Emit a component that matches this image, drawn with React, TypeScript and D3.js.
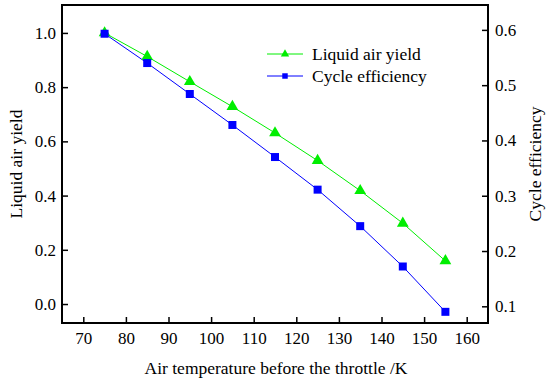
import React, { useEffect, useRef } from 'react';
import * as d3 from 'd3';

const temperatures = [75, 85, 95, 105, 115, 125, 135, 145, 155];
const liquidAirYield = [1.0, 0.913, 0.82, 0.728, 0.631, 0.529, 0.418, 0.298, 0.159];
const cycleEfficiency = [0.593, 0.54, 0.484, 0.428, 0.37, 0.311, 0.245, 0.172, 0.09];
const xTicks = [70, 80, 90, 100, 110, 120, 130, 140, 150, 160];
const leftTicks = [0, 0.2, 0.4, 0.6, 0.8, 1.0];
const rightTicks = [0.1, 0.2, 0.3, 0.4, 0.5, 0.6];

const GREEN = '#00ee00';
const BLUE = '#0000ff';
const FONT = '"Liberation Serif", "Times New Roman", serif';

const App: React.FC = () => {
  const svgRef = useRef<SVGSVGElement>(null);
  const width = 550;
  const height = 383;

  useEffect(() => {
    if (!svgRef.current) return;
    const svg = d3.select(svgRef.current);
    svg.selectAll('*').remove();

    const margin = { top: 5, right: 62, bottom: 60, left: 62 };
    const innerWidth = width - margin.left - margin.right;
    const innerHeight = height - margin.top - margin.bottom;

    const g = svg
      .append('g')
      .attr('transform', `translate(${margin.left},${margin.top})`);

    const x = d3.scaleLinear().domain([65, 165]).range([0, innerWidth]);
    const yLeft = d3.scaleLinear().domain([-0.07, 1.103]).range([innerHeight, 0]);
    const yRight = d3.scaleLinear().domain([0.0698, 0.645]).range([innerHeight, 0]);

    const styleAxis = (sel: d3.Selection<SVGGElement, unknown, null, undefined>) => {
      sel.select('.domain').remove();
      sel.selectAll('line').attr('stroke', '#000').attr('stroke-width', 1.5);
      sel
        .selectAll('text')
        .attr('font-family', FONT)
        .attr('font-size', '17px')
        .attr('fill', '#000');
    };

    g.append('g')
      .attr('transform', `translate(0,${innerHeight})`)
      .call(d3.axisBottom(x).tickValues(xTicks).tickSize(-6).tickPadding(9).tickFormat(d3.format('d')))
      .call(styleAxis);

    g.append('g')
      .call(d3.axisLeft(yLeft).tickValues(leftTicks).tickSize(-6).tickPadding(6).tickFormat(d3.format('.1f')))
      .call(styleAxis);

    g.append('g')
      .attr('transform', `translate(${innerWidth},0)`)
      .call(d3.axisRight(yRight).tickValues(rightTicks).tickSize(-6).tickPadding(7).tickFormat(d3.format('.1f')))
      .call(styleAxis);

    g.append('rect')
      .attr('width', innerWidth)
      .attr('height', innerHeight)
      .attr('fill', 'none')
      .attr('stroke', '#000')
      .attr('stroke-width', 2);

    const yieldLine = d3
      .line<number>()
      .x((_, i) => x(temperatures[i]))
      .y((d) => yLeft(d));
    const effLine = d3
      .line<number>()
      .x((_, i) => x(temperatures[i]))
      .y((d) => yRight(d));

    g.append('path')
      .datum(liquidAirYield)
      .attr('d', yieldLine)
      .attr('fill', 'none')
      .attr('stroke', GREEN)
      .attr('stroke-width', 1);

    g.append('path')
      .datum(cycleEfficiency)
      .attr('d', effLine)
      .attr('fill', 'none')
      .attr('stroke', BLUE)
      .attr('stroke-width', 1);

    const tri = d3.symbol().type(d3.symbolTriangle).size(60);
    const sq = d3.symbol().type(d3.symbolSquare).size(64);

    g.selectAll('.tri')
      .data(liquidAirYield)
      .enter()
      .append('path')
      .attr('class', 'tri')
      .attr('d', tri)
      .attr('transform', (d, i) => `translate(${x(temperatures[i])},${yLeft(d)})`)
      .attr('fill', GREEN);

    g.selectAll('.sq')
      .data(cycleEfficiency)
      .enter()
      .append('path')
      .attr('class', 'sq')
      .attr('d', sq)
      .attr('transform', (d, i) => `translate(${x(temperatures[i])},${yRight(d)})`)
      .attr('fill', BLUE);

    // legend
    const legend = [
      { label: 'Liquid air yield', color: GREEN, symbol: d3.symbol().type(d3.symbolTriangle).size(30), y: 54 },
      { label: 'Cycle efficiency', color: BLUE, symbol: d3.symbol().type(d3.symbolSquare).size(30), y: 76 },
    ];
    legend.forEach((l) => {
      svg.append('line')
        .attr('x1', 267).attr('x2', 303)
        .attr('y1', l.y).attr('y2', l.y)
        .attr('stroke', l.color).attr('stroke-width', 1);
      svg.append('path')
        .attr('d', l.symbol)
        .attr('transform', `translate(285,${l.y})`)
        .attr('fill', l.color);
      svg.append('text')
        .attr('x', 312).attr('y', l.y + 6)
        .attr('font-family', FONT).attr('font-size', '17.5px')
        .text(l.label);
    });

    // axis titles
    svg.append('text')
      .attr('x', 276)
      .attr('y', 374)
      .attr('text-anchor', 'middle')
      .attr('font-family', FONT).attr('font-size', '17.5px')
      .text('Air temperature before the throttle /K');

    svg.append('text')
      .attr('transform', `translate(22,${margin.top + innerHeight / 2}) rotate(-90)`)
      .attr('text-anchor', 'middle')
      .attr('font-family', FONT).attr('font-size', '17.5px')
      .text('Liquid air yield');

    svg.append('text')
      .attr('transform', `translate(541,${margin.top + innerHeight / 2}) rotate(-90)`)
      .attr('text-anchor', 'middle')
      .attr('font-family', FONT).attr('font-size', '17.5px')
      .text('Cycle efficiency');
  }, []);

  return (
    <div style={{ position: 'absolute', left: 0, top: 0 }}>
      <svg ref={svgRef} width={width} height={height} style={{ display: 'block', background: '#fff' }} />
    </div>
  );
};

export default App;
